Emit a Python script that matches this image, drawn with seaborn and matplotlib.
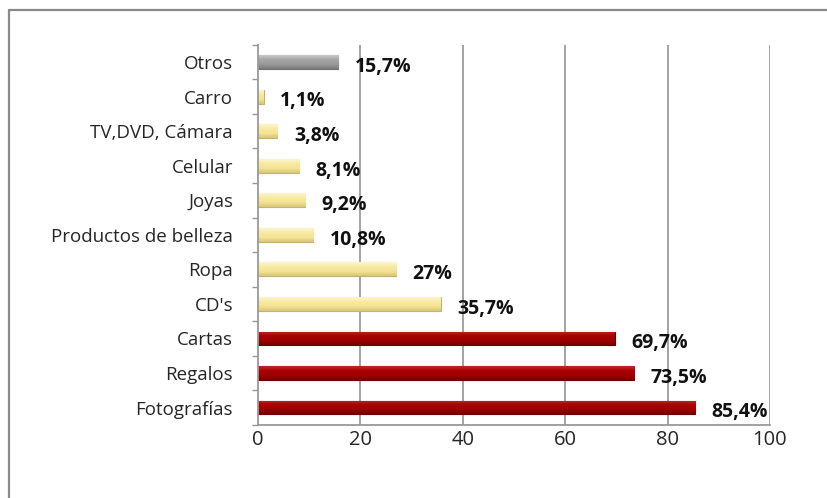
import matplotlib
matplotlib.use("Agg")
import matplotlib.pyplot as plt
import seaborn as sns
import pandas as pd
import numpy as np
from matplotlib.lines import Line2D
from matplotlib.colors import LinearSegmentedColormap

categories = ["Otros", "Carro", "TV,DVD, Cámara", "Celular", "Joyas",
              "Productos de belleza", "Ropa", "CD's", "Cartas", "Regalos", "Fotografías"]
values = [15.7, 1.1, 3.8, 8.1, 9.2, 10.8, 27, 35.7, 69.7, 73.5, 85.4]
labels = ["15,7%", "1,1%", "3,8%", "8,1%", "9,2%", "10,8%", "27%", "35,7%", "69,7%", "73,5%", "85,4%"]
groups = ["otros", "medio", "medio", "medio", "medio", "medio", "medio", "medio", "alto", "alto", "alto"]
palette = {"otros": "#a0a0a0", "medio": "#f7eaa2", "alto": "#a80000"}
edges = {"otros": "#707070", "medio": "#c2b170", "alto": "#6a0000"}
shades = {
    "otros": ["#c8c8c8", "#a6a6a6", "#9a9a9a", "#7a7a7a"],
    "medio": ["#fdf6cf", "#f7eaa2", "#f3e394", "#d8c679"],
    "alto": ["#bf2a2a", "#a80000", "#a00000", "#760000"],
}

df = pd.DataFrame({"cat": categories, "val": values, "grp": groups})

sns.set_theme(style="white")
plt.rcParams["font.family"] = ["Open Sans", "DejaVu Sans"]

fig = plt.figure(figsize=(8.27, 4.98), dpi=100)
ax = fig.add_axes([0.312, 0.147, 0.619, 0.763])

sns.barplot(data=df, y="cat", x="val", hue="grp", palette=palette, dodge=False,
            width=0.40, orient="h", ax=ax, legend=False, order=categories,
            saturation=1)

grad = np.linspace(0, 1, 64).reshape(-1, 1)
for p in list(ax.patches):
    if p.get_width() <= 0:
        continue
    yc = p.get_y() + p.get_height() / 2
    idx = int(round(yc))
    if not (0 <= idx < len(groups)):
        continue
    g = groups[idx]
    p.set_edgecolor(edges[g])
    p.set_linewidth(0.8)
    cmap = LinearSegmentedColormap.from_list(g, shades[g])
    x0, y0, w, h = p.get_x(), p.get_y(), p.get_width(), p.get_height()
    im = ax.imshow(grad, cmap=cmap, aspect="auto", extent=(x0, x0 + w, y0 + h, y0),
                   origin="upper", zorder=p.get_zorder() + 0.1, interpolation="bicubic")
    im.set_clip_path(p)

for i, (v, lab) in enumerate(zip(values, labels)):
    ax.text(v + 3.2, i + 0.14, lab, va="center", ha="left", fontsize=14,
            fontweight="bold", color="#111111")

ax.set_xlim(0, 100)
ax.set_ylim(10.5, -0.5)
ax.set_xticks([0, 20, 40, 60, 80, 100])
ax.set_xticklabels(["0", "20", "40", "60", "80", "100"], fontsize=14.5)
ax.tick_params(axis="x", length=4, color="#999999", pad=0)
ax.tick_params(axis="y", length=0, labelsize=13.5, pad=18)
ax.set_yticks(range(len(categories)))
ax.set_yticklabels(categories)
ax.set_yticks(np.arange(-0.5, 11, 1), minor=True)
ax.tick_params(axis="y", which="minor", length=4, color="#999999", left=True)
ax.set_xlabel("")
ax.set_ylabel("")
for xg in [20, 40, 60, 80, 100]:
    ax.axvline(xg, color="#9c9c9c", lw=1.3, zorder=0)
ax.spines["top"].set_visible(False)
ax.spines["right"].set_visible(False)
ax.spines["left"].set_color("#999999")
ax.spines["bottom"].set_color("#999999")
ax.spines["left"].set_linewidth(1.3)
ax.spines["bottom"].set_linewidth(1.3)

# outer chart frame (only top and left edges visible in the crop)
fig.lines.append(Line2D([0.011, 1.0], [0.980, 0.980], transform=fig.transFigure,
                        color="#8a8a8a", lw=1.6))
fig.lines.append(Line2D([0.011, 0.011], [0.0, 0.980], transform=fig.transFigure,
                        color="#8a8a8a", lw=1.6))

fig.savefig("out.png", dpi=100)
